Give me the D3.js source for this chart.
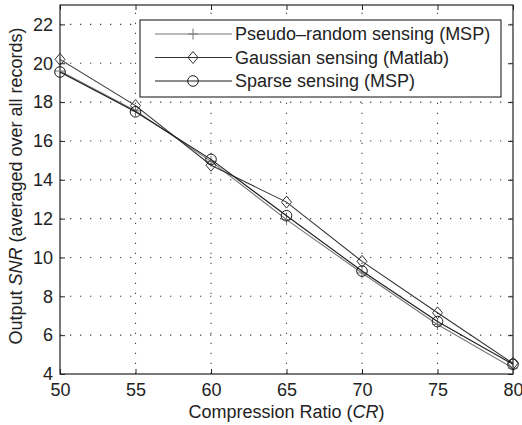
<!DOCTYPE html>
<html>
<head>
<meta charset="utf-8">
<script src="https://d3js.org/d3.v7.min.js"></script>
<style>
  body { margin: 0; background: #fff; }
  svg text { font-family: "Liberation Sans", Arial, Helvetica, sans-serif; fill: #222; }
  .tick text { font-size: 18px; }
</style>
</head>
<body>
<svg id="chart" width="522" height="425"></svg>
<script>
// compression ratio values on the x axis
var ratios = [50, 55, 60, 65, 70, 75, 80];
// output SNR
var pseudoSnr = [19.6, 17.55, 14.95, 11.95, 9.2, 6.55, 4.3];
var gaussSnr  = [20.2, 17.82, 14.75, 12.85, 9.8, 7.15, 4.55];
var sparseSnr = [19.55, 17.5, 15.05, 12.15, 9.3, 6.7, 4.5];
var xTicks = [50, 55, 60, 65, 70, 75, 80];
var yTicks = [4, 6, 8, 10, 12, 14, 16, 18, 20, 22];
var legendNames = ["Pseudo\u2013random sensing (MSP)", "Gaussian sensing (Matlab)", "Sparse sensing (MSP)"];

var pLeft = 60, pRight = 513, pTop = 5, pBottom = 374;
var svg = d3.select("#chart");

var x = d3.scaleLinear().domain([50, 80]).range([pLeft, pRight]);
var y = d3.scaleLinear().domain([4, 23]).range([pBottom, pTop]);

// dotted grid
var grid = svg.append("g").attr("stroke", "#444").attr("stroke-width", 1.1).attr("stroke-dasharray", "1.3,8.7");
grid.selectAll(".gx").data(xTicks.slice(1, -1)).enter().append("line")
  .attr("x1", d => x(d)).attr("x2", d => x(d)).attr("y1", pBottom).attr("y2", pTop);
grid.selectAll(".gy").data(yTicks.slice(1)).enter().append("line")
  .attr("y1", d => y(d)).attr("y2", d => y(d)).attr("x1", pLeft).attr("x2", pRight);

// axes with inward ticks
function styleAxis(g) {
  g.selectAll(".domain").remove();
  g.selectAll(".tick line").attr("stroke", "#222");
  g.selectAll(".tick text").style("font-size", "18px").attr("fill", "#222");
}
svg.append("g").attr("transform", "translate(0," + pBottom + ")")
  .call(d3.axisBottom(x).tickValues(xTicks).tickSize(-5).tickPadding(9).tickFormat(d3.format("d")))
  .call(styleAxis);
svg.append("g").attr("transform", "translate(0," + pTop + ")")
  .call(d3.axisTop(x).tickValues(xTicks).tickSize(-5).tickFormat(""))
  .call(styleAxis);
svg.append("g").attr("transform", "translate(" + pLeft + ",0)")
  .call(d3.axisLeft(y).tickValues(yTicks).tickSize(-5).tickPadding(7).tickFormat(d3.format("d")))
  .call(styleAxis);
svg.append("g").attr("transform", "translate(" + pRight + ",0)")
  .call(d3.axisRight(y).tickValues(yTicks).tickSize(-5).tickFormat(""))
  .call(styleAxis);

svg.append("rect").attr("x", pLeft).attr("y", pTop).attr("width", pRight - pLeft).attr("height", pBottom - pTop)
  .attr("fill", "none").attr("stroke", "#222").attr("stroke-width", 1.2);

// markers
function drawMarker(g, kind, cx, cy, color) {
  if (kind === "plus") {
    g.append("path").attr("d", "M" + (cx - 5) + "," + cy + "h10M" + cx + "," + (cy - 5.5) + "v11")
      .attr("stroke", color).attr("stroke-width", 1).attr("fill", "none");
  } else if (kind === "diamond") {
    g.append("path").attr("d", "M" + cx + "," + (cy - 6) + "L" + (cx + 5) + "," + cy + "L" + cx + "," + (cy + 6) + "L" + (cx - 5) + "," + cy + "Z")
      .attr("stroke", color).attr("stroke-width", 1).attr("fill", "none");
  } else {
    g.append("circle").attr("cx", cx).attr("cy", cy).attr("r", 5.3)
      .attr("stroke", color).attr("stroke-width", 1).attr("fill", "none");
  }
}

var series = [
  { values: pseudoSnr, color: "#777", kind: "plus" },
  { values: gaussSnr, color: "#333", kind: "diamond" },
  { values: sparseSnr, color: "#1a1a1a", kind: "circle" }
];

var line = d3.line().x((d, i) => x(ratios[i])).y(d => y(d));
series.forEach(function (s) {
  var g = svg.append("g");
  g.append("path").attr("d", line(s.values)).attr("fill", "none").attr("stroke", s.color).attr("stroke-width", 1.1);
  s.values.forEach(function (v, i) { drawMarker(g, s.kind, x(ratios[i]), y(v), s.color); });
});

// legend
var lg = svg.append("g");
lg.append("rect").attr("x", 140).attr("y", 20).attr("width", 361).attr("height", 77)
  .attr("fill", "#fff").attr("stroke", "#222").attr("stroke-width", 1.1);
var rowY = [34, 57.5, 81];
series.forEach(function (s, i) {
  lg.append("line").attr("x1", 155).attr("x2", 232).attr("y1", rowY[i]).attr("y2", rowY[i])
    .attr("stroke", s.color).attr("stroke-width", 1.1);
  drawMarker(lg, s.kind, 193, rowY[i], s.color);
  lg.append("text").attr("x", 235).attr("y", rowY[i]).attr("dy", "0.35em")
    .style("font-size", "18px").text(legendNames[i]);
});

// axis titles
svg.append("text").attr("x", (pLeft + pRight) / 2).attr("y", 418).attr("text-anchor", "middle")
  .style("font-size", "18px")
  .html('Compression Ratio (<tspan font-style="italic">CR</tspan>)');
svg.append("text").attr("transform", "translate(22,186) rotate(-90)").attr("text-anchor", "middle")
  .style("font-size", "18px")
  .html('Output <tspan font-style="italic">SNR</tspan> (averaged over all records)');
</script>
</body>
</html>
